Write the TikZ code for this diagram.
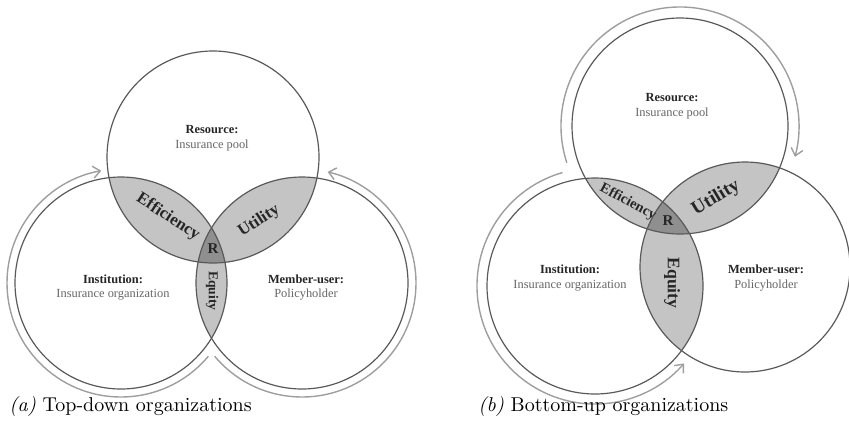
\documentclass[tikz,border=0pt]{standalone}
\usepackage{fontspec}
\newfontfamily\figfont{Liberation Serif}
\usetikzlibrary{arrows.meta}
\definecolor{ringc}{gray}{0.35}
\definecolor{lensc}{gray}{0.77}
\definecolor{corec}{gray}{0.56}
\definecolor{flowc}{gray}{0.62}
\definecolor{subc}{gray}{0.40}
\tikzset{
  ring/.style={draw=ringc, line width=0.6pt},
  flow/.style={draw=flowc, line width=0.7pt, -{Straight Barb[length=3.5pt,width=6pt]}},
  head/.style={font=\figfont\fontsize{6.2}{7}\selectfont\bfseries, text=black!85, inner sep=0pt},
  sub/.style={font=\figfont\fontsize{6.2}{7}\selectfont, text=subc, inner sep=0pt},
  tag/.style={font=\figfont\fontsize{#1}{#1}\selectfont\bfseries, text=black!85, inner sep=0pt},
  caption/.style={anchor=base west, inner sep=0pt},
}
\begin{document}
\begin{tikzpicture}[x=0.5pt, y=-0.5pt]
		\useasboundingbox (0,0) rectangle (849,440);
		
		%%%%% (a) TOP-DOWN %%%%%
		\coordinate (poolA) at (213,157);
		\coordinate (orgA) at (121,283);
		\coordinate (holderA) at (302,283);
		
		\begin{scope}
			\clip (poolA) circle[radius=106];
			\fill[lensc] (orgA) circle[radius=106];
			\fill[lensc] (holderA) circle[radius=106];
		\end{scope}
		\begin{scope}
			\clip (orgA) circle[radius=106];
			\fill[lensc] (holderA) circle[radius=106];
		\end{scope}
		\begin{scope}
			\clip (poolA) circle[radius=106];
			\clip (orgA) circle[radius=106];
			\fill[corec] (holderA) circle[radius=106];
		\end{scope}
		
		\draw[ring] (poolA) circle[radius=106];
		\draw[ring] (orgA) circle[radius=106];
		\draw[ring] (holderA) circle[radius=106];
		
		\draw[flow] (orgA) ++(40:114) arc[start angle=40, end angle=260, radius=114];
		\draw[flow] (holderA) ++(140:114) arc[start angle=140, end angle=-77, radius=114];
		
		\node[head] (resA) at (212,130) {Resource:};
		\node[sub] (poolTxtA) at (212,146) {Insurance pool};
		\node[head] (instA) at (113,279) {Institution:};
		\node[sub] (orgTxtA) at (113,295) {Insurance organization};
		\node[head] (memA) at (306,279) {Member-user:};
		\node[sub] (holderTxtA) at (306,295) {Policyholder};
		
		\node[tag=8.4, rotate=-33] (effA) at (168,217) {Efficiency};
		\node[tag=8.4, rotate=33] (utilA) at (259,221) {Utility};
		\node[tag=6.8, rotate=-90] (equA) at (212,291) {Equity};
		\node[tag=7.5] (rA) at (213,249) {R};
		
		\node[caption] (capA) at (9,411) {\textit{(a)} Top-down organizations};
		
		%%%%% (b) BOTTOM-UP %%%%%
		\coordinate (poolB) at (680,126);
		\coordinate (orgB) at (595,286);
		\coordinate (holderB) at (745,267);
		
		\begin{scope}
			\clip (poolB) circle[radius=108];
			\fill[lensc] (orgB) circle[radius=108];
			\fill[lensc] (holderB) circle[radius=105];
		\end{scope}
		\begin{scope}
			\clip (orgB) circle[radius=108];
			\fill[lensc] (holderB) circle[radius=105];
		\end{scope}
		\begin{scope}
			\clip (poolB) circle[radius=108];
			\clip (orgB) circle[radius=108];
			\fill[corec] (holderB) circle[radius=105];
		\end{scope}
		
		\draw[ring] (poolB) circle[radius=108];
		\draw[ring] (orgB) circle[radius=108];
		\draw[ring] (holderB) circle[radius=105];
		
		\draw[flow] (poolB) ++(162:119) arc[start angle=162, end angle=375, radius=119];
		\draw[flow] (orgB) ++(254:118) arc[start angle=254, end angle=41, radius=118];
		
		\node[head] (resB) at (672,98) {Resource:};
		\node[sub] (poolTxtB) at (672,114) {Insurance pool};
		\node[head] (instB) at (570,269) {Institution:};
		\node[sub] (orgTxtB) at (570,286) {Insurance organization};
		\node[head] (memB) at (766,269) {Member-user:};
		\node[sub] (holderTxtB) at (766,286) {Policyholder};
		
		\node[tag=7.2, rotate=-28] (effB) at (628,202) {Efficiency};
		\node[tag=9.6, rotate=31] (utilB) at (716,198) {Utility};
		\node[tag=8.8, rotate=-90] (equB) at (672,283) {Equity};
		\node[tag=7.5] (rB) at (668,221) {R};
		
		\node[caption] (capB) at (478,411) {\textit{(b)} Bottom-up organizations};
	\end{tikzpicture}
\end{document}
